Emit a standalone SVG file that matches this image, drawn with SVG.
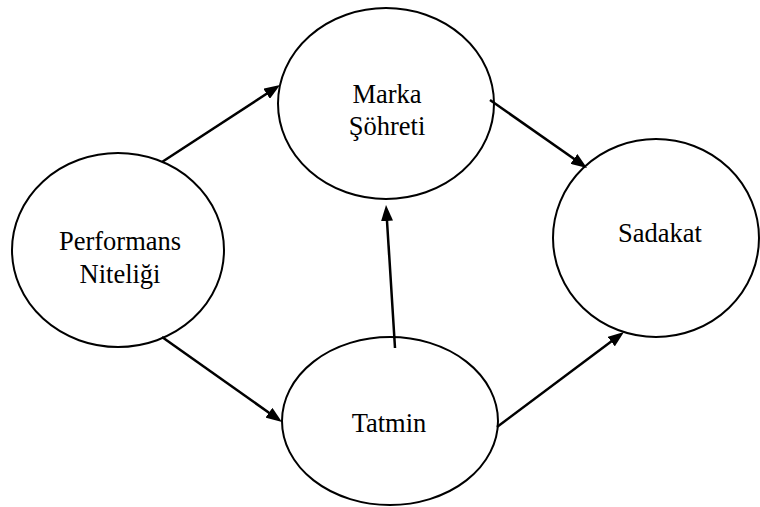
<svg xmlns="http://www.w3.org/2000/svg" width="760" height="507" viewBox="0 0 760 507">
  <defs>
    <marker id="arrowhead" markerUnits="userSpaceOnUse" markerWidth="16" markerHeight="12" refX="10" refY="6" orient="auto">
      <path d="M0,0 L16,6 L0,12 z" fill="#000"/>
    </marker>
    <style>
      .node ellipse { fill: #fff; stroke: #000; stroke-width: 2; }
      .node text { fill: #000; text-anchor: middle; }
      .edge { stroke: #000; stroke-width: 2.5; fill: none; marker-end: url(#arrowhead); }
    </style>
  </defs>
  <rect width="760" height="507" fill="#fff"/>

  <g font-family="'Liberation Serif', 'Times New Roman', serif" font-size="26.5">
    <g id="marka" class="node">
      <ellipse cx="386" cy="103.5" rx="108" ry="95.5"/>
      <text x="387" y="103">Marka</text>
      <text x="387" y="135">Şöhreti</text>
    </g>

    <g id="performans" class="node">
      <ellipse cx="118" cy="250" rx="106" ry="97"/>
      <text x="120" y="250">Performans</text>
      <text x="120" y="283">Niteliği</text>
    </g>

    <g id="sadakat" class="node">
      <ellipse cx="656" cy="238" rx="103" ry="99"/>
      <text x="660" y="242">Sadakat</text>
    </g>

    <g id="tatmin" class="node">
      <ellipse cx="390" cy="421" rx="108" ry="84"/>
      <text x="389" y="432">Tatmin</text>
    </g>
  </g>

  <g id="connectors">
    <line class="edge" x1="162" y1="162" x2="275" y2="88.3"/>
    <line class="edge" x1="162" y1="337" x2="277.1" y2="418.5"/>
    <line class="edge" x1="490" y1="100" x2="582.1" y2="164.6"/>
    <line class="edge" x1="395" y1="348" x2="386.4" y2="211"/>
    <line class="edge" x1="497" y1="427" x2="619.2" y2="335.6"/>
  </g>
</svg>
